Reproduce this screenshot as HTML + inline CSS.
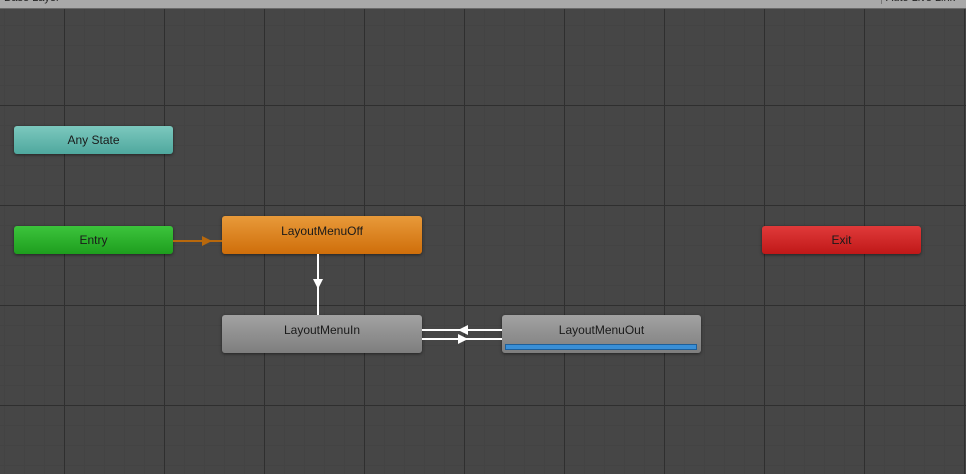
<!DOCTYPE html>
<html><head><style>
body{margin:0;width:966px;height:474px;overflow:hidden;background:#464646;font-family:"Liberation Sans",sans-serif;position:relative}
.grid{position:absolute;inset:0;
background-image:
linear-gradient(to right,#2f2f2f 1px,transparent 1px),
linear-gradient(to bottom,#2f2f2f 1px,transparent 1px),
linear-gradient(to right,#434343 1px,transparent 1px),
linear-gradient(to bottom,#434343 1px,transparent 1px);
background-size:100px 100px,100px 100px,20px 20px,20px 20px;
background-position:64px 5px,64px 5px,4px 5px,4px 5px}
.top{position:absolute;left:0;top:0;width:966px;height:8px;background:#a9a9a9;border-bottom:1px solid #6a6a6a}
.node{position:absolute;height:28px;border-radius:3px;font-size:12px;color:#1a1a1a;text-align:center;line-height:28px;box-shadow:0 1px 3px rgba(0,0,0,.5);box-sizing:border-box}
</style></head><body>
<div class="grid"></div>
<div class="top"><span style="position:absolute;left:4px;top:-8px;font-size:11px;color:#222">Base Layer</span><span style="position:absolute;right:0;width:80px;top:-8px;font-size:11px;color:#222;border-left:1px solid #777;padding-left:4px">Auto Live Link</span></div>
<div class="node" style="left:14px;top:126px;width:159px;background:linear-gradient(#7cc8be,#4fa89e)">Any State</div>
<div class="node" style="left:14px;top:226px;width:159px;background:linear-gradient(#3cc43c,#1e9e1e)">Entry</div>
<div class="node" style="left:222px;top:216px;width:200px;height:38px;line-height:30px;background:linear-gradient(#e89a3a,#cf6e0a)">LayoutMenuOff</div>
<div class="node" style="left:762px;top:226px;width:159px;background:linear-gradient(#e03a3a,#c01818)">Exit</div>
<div class="node" style="left:222px;top:315px;width:200px;height:38px;line-height:30px;background:linear-gradient(#a2a2a2,#7e7e7e)">LayoutMenuIn</div>
<div class="node" style="left:502px;top:315px;width:199px;height:38px;line-height:30px;background:linear-gradient(#a2a2a2,#7e7e7e)">LayoutMenuOut
<div style="position:absolute;left:3px;bottom:3px;width:192px;height:6px;background:#3a8fd6;border:1px solid #1e5f99;box-sizing:border-box"></div></div>
<svg width="966" height="474" style="position:absolute;left:0;top:0">
<line x1="173" y1="241" x2="222" y2="241" stroke="#b8680c" stroke-width="2"/>
<polygon points="202,236 212,241 202,246" fill="#b8680c"/>
<line x1="318" y1="254" x2="318" y2="315" stroke="#fff" stroke-width="2"/>
<polygon points="313,279 323,279 318,289" fill="#fff"/>
<line x1="422" y1="330" x2="502" y2="330" stroke="#fff" stroke-width="2"/>
<line x1="422" y1="339" x2="502" y2="339" stroke="#fff" stroke-width="2"/>
<polygon points="468,325 458,330 468,335" fill="#fff"/>
<polygon points="458,334 468,339 458,344" fill="#fff"/>
</svg>
</body></html>
